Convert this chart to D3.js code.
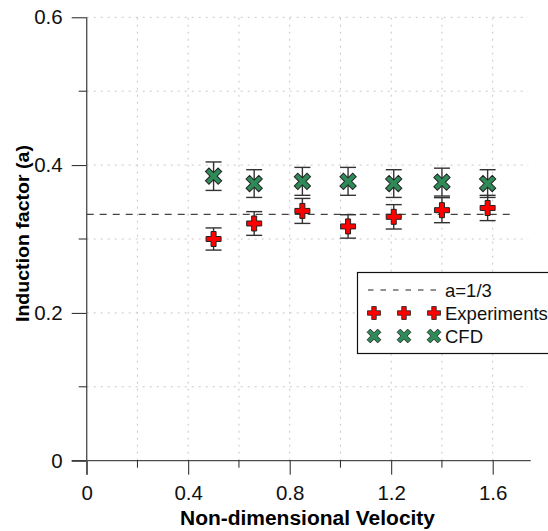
<!DOCTYPE html>
<html>
<head>
<meta charset="utf-8">
<script src="https://cdn.jsdelivr.net/npm/d3@7"></script>
<style>
  body { margin: 0; background: #fff; }
  svg { display: block; font-family: "Liberation Sans", Arial, sans-serif; }
</style>
</head>
<body>
<div id="chart"></div>
<script>
// data
var velocity = [0.5, 0.66, 0.85, 1.03, 1.21, 1.40, 1.58];
var experiments = [0.300, 0.321, 0.338, 0.317, 0.330, 0.339, 0.342];
var cfd = [0.385, 0.375, 0.378, 0.378, 0.375, 0.377, 0.375];
var errorFraction = 0.05;
var theoryValue = 1 / 3;
var xTicks = [0, 0.4, 0.8, 1.2, 1.6];
var xMinorTicks = [0.2, 0.6, 1.0, 1.4];
var yTicks = [0, 0.2, 0.4, 0.6];
var yMinorTicks = [0.1, 0.3, 0.5];
var legendLabels = ["a=1/3", "Experiments", "CFD"];

var width = 548, height = 531;

var x = d3.scaleLinear().domain([0, 1.6]).range([86.7, 492.7]);
var y = d3.scaleLinear().domain([0, 0.6]).range([460.7, 17.3]);

var svg = d3.select("#chart").append("svg")
    .attr("width", width)
    .attr("height", height);

// grid
var gridColor = "#c8c8c8";
svg.append("g")
    .selectAll("line")
    .data(d3.range(1, 7).map(function(i) { return i / 10; }))
    .enter()
        .append("line")
        .attr("x1", x(0)).attr("x2", x(1.74))
        .attr("y1", function(d) { return y(d); })
        .attr("y2", function(d) { return y(d); })
        .attr("stroke", gridColor)
        .attr("stroke-dasharray", "2,5");

svg.append("g")
    .selectAll("line")
    .data(d3.range(1, 9).map(function(i) { return i / 5; }))
    .enter()
        .append("line")
        .attr("x1", function(d) { return x(d); })
        .attr("x2", function(d) { return x(d); })
        .attr("y1", y(0)).attr("y2", y(0.6))
        .attr("stroke", gridColor)
        .attr("stroke-dasharray", "2,5");

// axes
var tickFmt = function(d) { return d === 0 ? "0" : d3.format(".1f")(d); };

var xAxis = svg.append("g")
    .attr("transform", "translate(0," + y(0) + ")")
    .call(d3.axisBottom(x).tickValues(xTicks).tickSize(14).tickPadding(11).tickFormat(tickFmt));
xAxis.select(".domain").remove();
xAxis.append("line")
    .attr("x1", x(0) - 15).attr("x2", x(1.75))
    .attr("stroke", "#222");
xAxis.append("g")
    .selectAll("line")
    .data(xMinorTicks)
    .enter()
        .append("line")
        .attr("x1", function(d) { return x(d); })
        .attr("x2", function(d) { return x(d); })
        .attr("y2", 7)
        .attr("stroke", "#222");

var yAxis = svg.append("g")
    .attr("transform", "translate(" + x(0) + ",0)")
    .call(d3.axisLeft(y).tickValues(yTicks).tickSize(15).tickPadding(9).tickFormat(tickFmt));
yAxis.select(".domain").remove();
yAxis.append("line")
    .attr("y1", y(0.6)).attr("y2", y(0) + 14)
    .attr("stroke", "#555")
    .attr("stroke-width", 1.4);
yAxis.append("g")
    .selectAll("line")
    .data(yMinorTicks)
    .enter()
        .append("line")
        .attr("y1", function(d) { return y(d); })
        .attr("y2", function(d) { return y(d); })
        .attr("x2", -8)
        .attr("stroke", "#222");

svg.selectAll(".tick line").attr("stroke", "#222");
svg.selectAll(".tick text")
    .attr("fill", "#111")
    .style("font-size", "20.5px")
    .style("font-family", "'Liberation Sans', Arial, sans-serif");

// axis titles
svg.append("text")
    .attr("x", 307.5)
    .attr("y", 525)
    .attr("text-anchor", "middle")
    .attr("textLength", 255)
    .attr("lengthAdjust", "spacingAndGlyphs")
    .style("font-size", "20px")
    .style("font-weight", "bold")
    .text("Non-dimensional Velocity");

svg.append("text")
    .attr("transform", "translate(29,233.5) rotate(-90)")
    .attr("text-anchor", "middle")
    .attr("textLength", 177)
    .attr("lengthAdjust", "spacingAndGlyphs")
    .style("font-size", "19px")
    .style("font-weight", "bold")
    .text("Induction factor (a)");

// a = 1/3 line
svg.append("line")
    .attr("x1", x(0)).attr("x2", x(1.69))
    .attr("y1", y(theoryValue)).attr("y2", y(theoryValue))
    .attr("stroke", "#444")
    .attr("stroke-width", 1.3)
    .attr("stroke-dasharray", "7,6");

// marker shapes
function plusPath(s, t) {
    var a = s / 2, b = t / 2;
    return "M" + (-b) + "," + (-a) + "H" + b + "V" + (-b) + "H" + a + "V" + b + "H" + b +
        "V" + a + "H" + (-b) + "V" + b + "H" + (-a) + "V" + (-b) + "H" + (-b) + "Z";
}

function drawSeries(values, fill, rotate, size, thick) {
    var g = svg.append("g");
    var bars = g.selectAll("g.err")
        .data(values)
        .enter()
            .append("g")
            .attr("transform", function(d, i) { return "translate(" + x(velocity[i]) + ",0)"; });
    bars.append("line")
        .attr("y1", function(d) { return y(d * (1 + errorFraction)); })
        .attr("y2", function(d) { return y(d * (1 - errorFraction)); })
        .attr("stroke", "#333").attr("stroke-width", 1.4);
    [1 + errorFraction, 1 - errorFraction].forEach(function(f) {
        bars.append("line")
            .attr("x1", -8).attr("x2", 8)
            .attr("y1", function(d) { return y(d * f); })
            .attr("y2", function(d) { return y(d * f); })
            .attr("stroke", "#333").attr("stroke-width", 1.4);
    });
    g.selectAll("path")
        .data(values)
        .enter()
            .append("path")
            .attr("d", plusPath(size, thick))
            .attr("transform", function(d, i) {
                return "translate(" + x(velocity[i]) + "," + y(d) + ") rotate(" + rotate + ")";
            })
            .attr("fill", fill)
            .attr("stroke", "#222")
            .attr("stroke-width", 1);
}

drawSeries(cfd, "#2e8b57", 45, 18, 5);
drawSeries(experiments, "#ff0000", 0, 15, 5);

// legend
var legend = svg.append("g");
legend.append("rect")
    .attr("x", 357.5).attr("y", 272.5)
    .attr("width", 200).attr("height", 81)
    .attr("fill", "#fff")
    .attr("stroke", "#111")
    .attr("stroke-width", 1.2);

var legendRows = [290, 313, 336];
legend.append("line")
    .attr("x1", 368).attr("x2", 437)
    .attr("y1", legendRows[0]).attr("y2", legendRows[0])
    .attr("stroke", "#222")
    .attr("stroke-width", 1.2)
    .attr("stroke-dasharray", "5.5,7");

[374, 404, 434].forEach(function(px) {
    legend.append("path")
        .attr("d", plusPath(13, 4.5))
        .attr("transform", "translate(" + px + "," + legendRows[1] + ")")
        .attr("fill", "#ff0000").attr("stroke", "#222").attr("stroke-width", 0.8);
    legend.append("path")
        .attr("d", plusPath(15, 4.5))
        .attr("transform", "translate(" + px + "," + legendRows[2] + ") rotate(45)")
        .attr("fill", "#2e8b57").attr("stroke", "#222").attr("stroke-width", 0.8);
});

legend.selectAll("text")
    .data(legendLabels)
    .enter()
        .append("text")
        .attr("x", 445)
        .attr("y", function(d, i) { return legendRows[i]; })
        .attr("dy", "0.36em")
        .style("font-size", "18.5px")
        .attr("fill", "#111")
        .text(function(d) { return d; });
</script>
</body>
</html>
